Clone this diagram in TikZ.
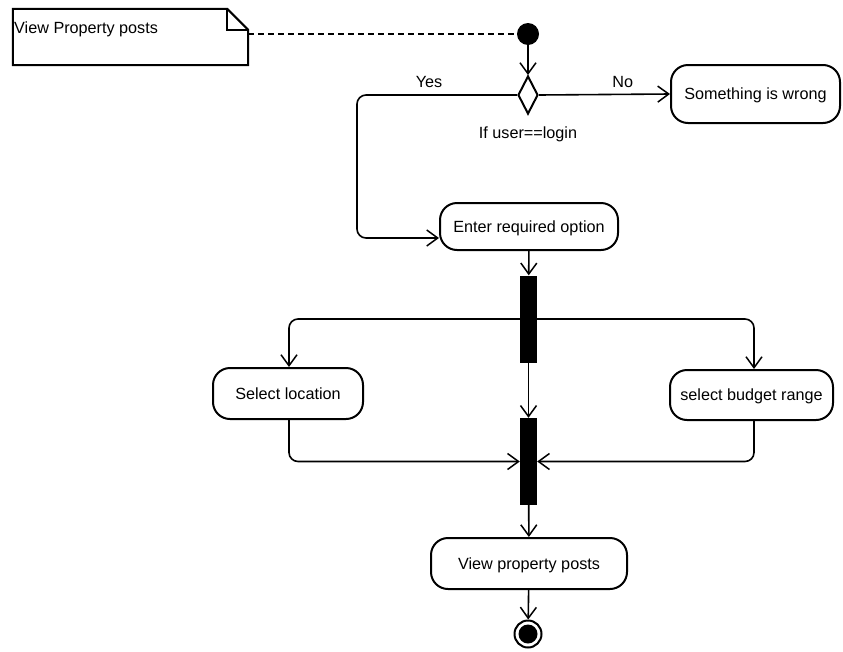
\documentclass[tikz,border=0pt]{standalone}
\usepackage{fontspec}
\setmainfont{Liberation Sans}
\usetikzlibrary{shapes.geometric,arrows.meta,positioning}

\tikzset{
	flow/.style={line width=1.6pt, -{Straight Barb[length=11pt,width=16pt,line width=1.5pt]}},
	activity/.style={draw, line width=2pt, rounded corners=17pt, minimum height=50pt, align=center, text depth=0pt},
	bar/.style={fill=black, minimum width=17pt, minimum height=87pt, inner sep=0pt}
}

\begin{document}
\begin{tikzpicture}[x=1pt, y=-1pt, font=\fontsize{16.2}{19}\selectfont]
		\useasboundingbox (0,0) rectangle (843,651);

		% note
		\node[minimum width=235pt, minimum height=56pt, inner sep=0pt] (note) at (130.5,37) {};
		\draw[line width=2pt] (note.north west) -- ([xshift=-21pt]note.north east) -- ([yshift=-21pt]note.north east) -- (note.south east) -- (note.south west) -- cycle;
		\draw[line width=2pt] ([xshift=-21pt]note.north east) -- ([xshift=-21pt,yshift=-21pt]note.north east) -- ([yshift=-21pt]note.north east);
		\node[anchor=west, inner sep=0pt] (notetext) at (14,29) {View Property posts};

		% start and decision
		\node[circle, fill=black, minimum size=22pt, inner sep=0pt] (start) at (528,34) {};
		\draw[dash pattern=on 6pt off 4pt, line width=1.6pt] (note.east |- start) -- (start.west);
		\node[diamond, draw, line width=2pt, fill=white, minimum width=20pt, minimum height=38pt, inner sep=0pt] (dec) at (528,95) {};
		\node (cond) at (528,134) {If user==login};

		\node[activity, minimum width=169pt, minimum height=58pt] (wrong) at (755.5,94) {Something is wrong};
		\node[activity, minimum width=178pt, minimum height=47pt] (enter) at (529,226.5) {Enter required option};

		\draw[flow] (start) -- (dec.north);
		\draw[flow] (dec.east) -- (wrong.west) node[pos=0.64, above=3pt] (no) {No};
		\coordinate (yesturn) at (357,95);
		\draw[flow, rounded corners=9pt] (dec.west) -- (yesturn) node[pos=0.55, above=3pt] (yes) {Yes} -- (357,238) -- (enter.west |- 0,238);

		% fork and join
		\node[bar] (fork) at (528.5,319) {};
		\node[bar] (join) at (528.5,461.5) {};
		\node[activity, minimum width=150pt, minimum height=51pt] (loc) at (288,393.5) {Select location};
		\node[activity, minimum width=163pt, minimum height=50pt] (budget) at (751.5,395) {select budget range};

		\draw[flow] (enter) -- (fork);
		\draw[flow, rounded corners=9pt] (fork.west) -| (loc.north -| 289,0);
		\draw[flow, rounded corners=9pt] (fork.east) -| (budget.north -| 754,0);
		\draw[flow] (fork) -- (join);
		\draw[flow, rounded corners=9pt] (loc.south -| 289,0) |- (join.west);
		\draw[flow, rounded corners=9pt] (budget.south -| 754,0) |- (join.east);

		% end
		\node[activity, minimum width=196pt, minimum height=51pt] (view) at (529,563.5) {View property posts};
		\node[circle, draw, line width=2pt, minimum size=27pt, inner sep=0pt] (stop) at (528,634) {};
		\fill (stop) circle (9.5pt);

		\draw[flow] (join) -- (view);
		\draw[flow] (view) -- (stop);
	\end{tikzpicture}
\end{document}
